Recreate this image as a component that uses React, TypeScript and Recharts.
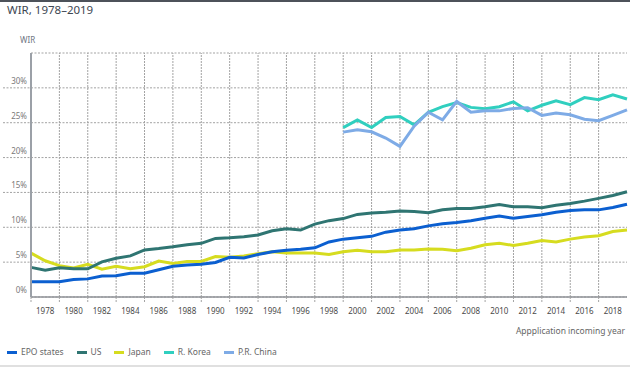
import React from 'react';
import { LineChart, Line, XAxis, YAxis, CartesianGrid, ReferenceLine } from 'recharts';

const years = [
  1977, 1978, 1979, 1980, 1981, 1982, 1983, 1984, 1985, 1986, 1987, 1988, 1989, 1990, 1991,
  1992, 1993, 1994, 1995, 1996, 1997, 1998, 1999, 2000, 2001, 2002, 2003, 2004, 2005, 2006,
  2007, 2008, 2009, 2010, 2011, 2012, 2013, 2014, 2015, 2016, 2017, 2018, 2019,
];

const epoStates = [
  2.2, 2.2, 2.2, 2.5, 2.6, 3.0, 3.05, 3.4, 3.4, 3.9, 4.4, 4.6, 4.7, 4.95, 5.7, 5.6, 6.1, 6.5,
  6.7, 6.85, 7.05, 7.9, 8.3, 8.5, 8.7, 9.3, 9.6, 9.8, 10.2, 10.5, 10.7, 10.95, 11.3, 11.6, 11.3,
  11.55, 11.8, 12.15, 12.4, 12.5, 12.5, 12.85, 13.3,
];
const us = [
  4.25, 3.85, 4.2, 4.05, 4.05, 5.05, 5.55, 5.9, 6.75, 6.95, 7.2, 7.5, 7.7, 8.4, 8.5, 8.65, 8.9,
  9.5, 9.8, 9.6, 10.45, 10.95, 11.25, 11.85, 12.05, 12.15, 12.35, 12.25, 12.1, 12.5, 12.7, 12.7,
  12.95, 13.25, 12.95, 12.95, 12.8, 13.15, 13.4, 13.75, 14.15, 14.55, 15.1,
];
const japan = [
  6.3, 5.2, 4.5, 4.15, 4.7, 4.0, 4.4, 4.05, 4.35, 5.15, 4.8, 5.1, 5.1, 5.8, 5.7, 5.9, 6.2, 6.5,
  6.3, 6.3, 6.3, 6.1, 6.5, 6.7, 6.5, 6.5, 6.75, 6.75, 6.9, 6.85, 6.65, 7.0, 7.5, 7.7, 7.4, 7.7,
  8.1, 7.9, 8.3, 8.6, 8.8, 9.4, 9.6,
];

// these two only start in 1999
const lateStart = 1999;
const korea = [
  24.3, 25.4, 24.3, 25.75, 25.9, 24.7, 26.5, 27.3, 27.9, 27.2, 27.0, 27.3, 28.0, 26.7, 27.5,
  28.15, 27.6, 28.6, 28.3, 29.0, 28.4,
];
const china = [
  23.65, 24.0, 23.7, 22.8, 21.6, 24.5, 26.5, 25.4, 28.05, 26.5, 26.7, 26.7, 27.05, 27.15, 26.05,
  26.4, 26.15, 25.5, 25.3, 26.05, 26.85,
];

const yTicks = [0, 5, 10, 15, 20, 25, 30];

const series = [
  { key: 'epo', name: 'EPO states', color: '#0b5fd0' },
  { key: 'us', name: 'US', color: '#2f7572' },
  { key: 'japan', name: 'Japan', color: '#d6dc1f' },
  { key: 'korea', name: 'R. Korea', color: '#30cfbf' },
  { key: 'china', name: 'P.R. China', color: '#7eabe6' },
];
// draw order (last on top)
const drawOrder = ['japan', 'us', 'epo', 'korea', 'china'];

const data = years.map((year, i) => ({
  year,
  epo: epoStates[i],
  us: us[i],
  japan: japan[i],
  korea: year >= lateStart ? korea[year - lateStart] : null,
  china: year >= lateStart ? china[year - lateStart] : null,
}));

const firstYear = years[0];
const lastYear = years[years.length - 1];
const gridYears = years.filter(y => y % 2 === 1 && y > firstYear && y < lastYear);

const FONT = '"Noto Sans", sans-serif';
const GRID = '#a3a3a3';

const XTick = ({ x, y, payload }: any) => {
  const yr = payload.value as number;
  if (yr % 2 === 1) {
    if (yr === lastYear) return <g />;
    return <line x1={x} x2={x} y1={y} y2={y + 6} stroke={GRID} strokeDasharray="2 1" />;
  }
  return (
    <text x={x} y={y + 17} textAnchor="middle" fontSize={8} fontFamily={FONT} fill="#4a4a4a">
      {yr}
    </text>
  );
};

const YTick = ({ x, y, payload }: any) => {
  const v = payload.value as number;
  return (
    <g>
      {v > 0 && <line x1={3} x2={x} y1={y} y2={y} stroke={GRID} strokeDasharray="2 1.5" />}
      <text x={x - 4} y={y - 4} textAnchor="end" fontSize={8} fontFamily={FONT} fill="#7a7a7a">
        {v}%
      </text>
    </g>
  );
};

const App: React.FC = () => {
  const byKey = Object.fromEntries(series.map(s => [s.key, s]));
  return (
    <div style={{ position: 'absolute', left: 0, top: 0, width: 630, height: 368, background: '#fff', fontFamily: FONT, overflow: 'hidden' }}>
      <div style={{ position: 'absolute', left: 0, top: 0, width: 630, height: 2, background: '#4d525a' }} />
      <div style={{ position: 'absolute', left: 7, top: 2, fontSize: 11.5, color: '#3d4652', lineHeight: '16px' }}>
        WIR, 1978–2019
      </div>
      <div style={{ position: 'absolute', left: 20, top: 34, fontSize: 8, color: '#6e7582', lineHeight: '12px' }}>
        WIR
      </div>
      <LineChart width={630} height={368} data={data} margin={{ top: 53, right: 3, bottom: 41, left: 0 }}>
        <CartesianGrid vertical={false} stroke={GRID} strokeDasharray="2 1.5" />
        {gridYears.map(yr => (
          <ReferenceLine key={yr} x={yr} stroke={GRID} strokeDasharray="2 1" />
        ))}
        <XAxis
          dataKey="year"
          type="number"
          domain={[firstYear, lastYear]}
          ticks={years}
          interval={0}
          tickSize={0}
          tickMargin={0}
          tick={<XTick />}
          height={30}
          axisLine={{ stroke: '#8f9297', strokeWidth: 1.5 }}
        />
        <YAxis
          domain={[0, 35]}
          ticks={yTicks}
          width={31}
          tickSize={0}
          tickMargin={0}
          tick={<YTick />}
          axisLine={{ stroke: '#9ba0a7', strokeWidth: 2 }}
        />
        {drawOrder.map(k => (
          <Line
            key={k}
            type="linear"
            dataKey={k}
            name={byKey[k].name}
            stroke={byKey[k].color}
            strokeWidth={3}
            dot={false}
            activeDot={false}
            connectNulls={false}
            isAnimationActive={false}
          />
        ))}
      </LineChart>
      <div style={{ position: 'absolute', right: 5, top: 325, fontSize: 8.5, color: '#666', lineHeight: '12px' }}>
        Appplication incoming year
      </div>
      <div style={{ position: 'absolute', left: 7, top: 346, display: 'flex', alignItems: 'center', fontSize: 8.5, color: '#666', lineHeight: '12px' }}>
        {series.map(s => (
          <div key={s.key} style={{ display: 'flex', alignItems: 'center', marginRight: 13 }}>
            <span style={{ display: 'inline-block', width: 10, height: 3, background: s.color, marginRight: 4 }} />
            <span>{s.name}</span>
          </div>
        ))}
      </div>
      <div style={{ position: 'absolute', left: 0, top: 365, width: 630, height: 2, background: '#e0e0e0' }} />
    </div>
  );
};

export default App;
